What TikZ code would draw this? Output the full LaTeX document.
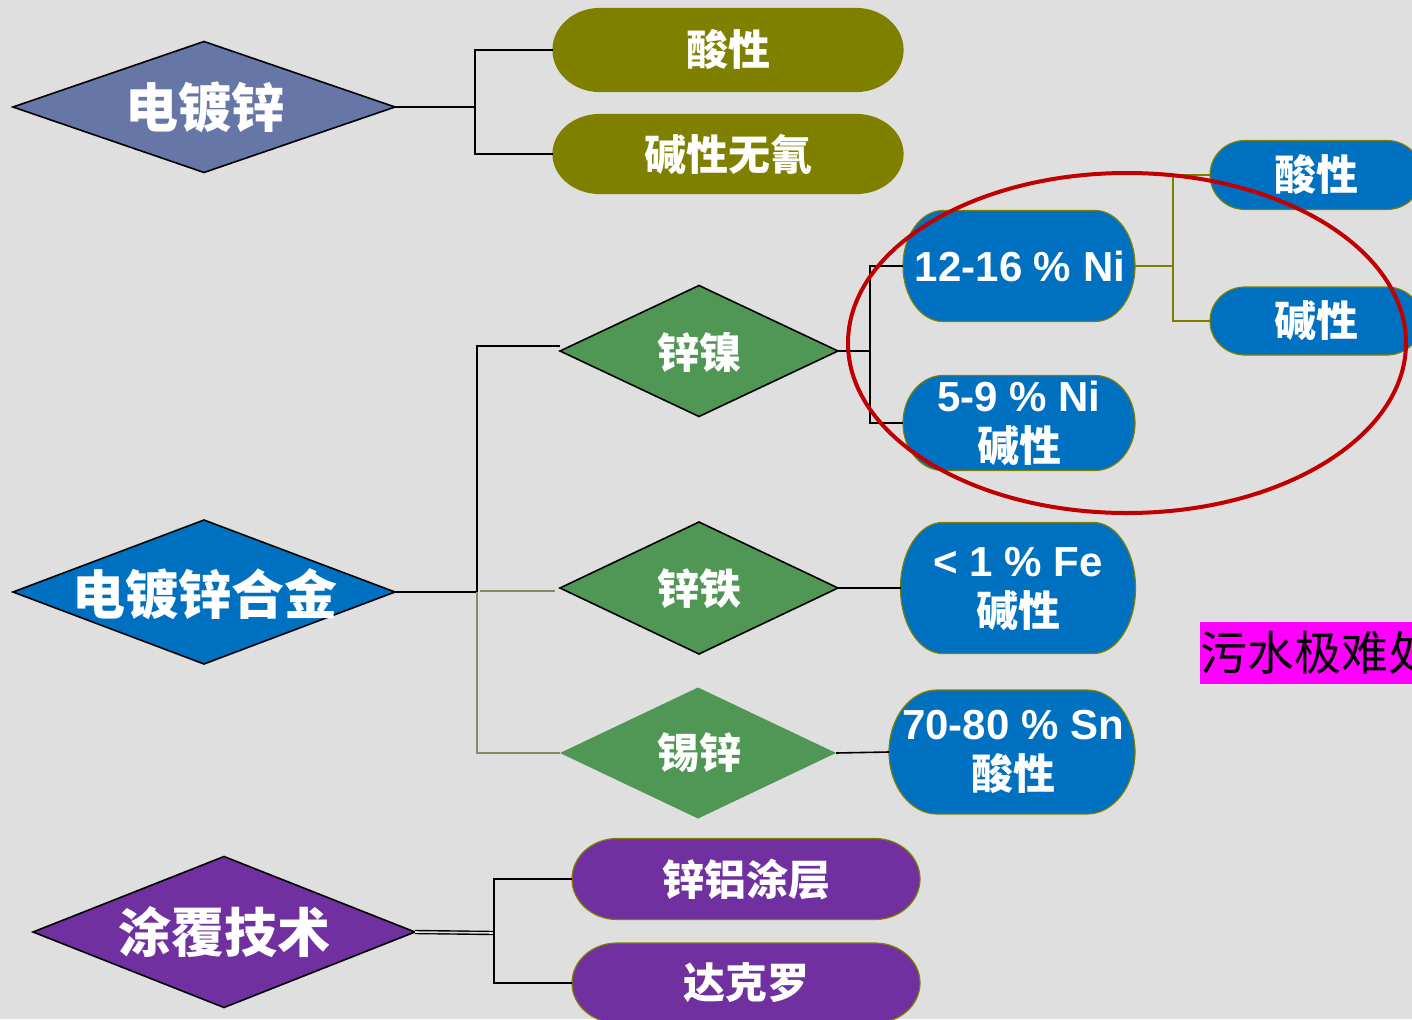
\documentclass[tikz,border=0pt]{standalone}
\usepackage{fontspec}
\newfontfamily\cjk{Noto Sans CJK SC}
\newfontfamily\lat{Liberation Sans}
\usetikzlibrary{shapes.geometric}
\definecolor{bg}{RGB}{223,223,223}
\definecolor{slate}{RGB}{102,119,167}
\definecolor{blu}{RGB}{0,112,192}
\definecolor{grn}{RGB}{80,150,85}
\definecolor{oliv}{RGB}{128,128,0}
\definecolor{purp}{RGB}{112,48,160}
\definecolor{redc}{RGB}{192,0,0}
\definecolor{khaki}{RGB}{140,135,100}
\definecolor{magn}{RGB}{255,0,255}
\tikzset{
  dia/.style={diamond, inner sep=0pt, outer sep=0pt, draw=black, line width=1.6pt},
  bigtxt/.style={text=white, font=\cjk\bfseries\fontsize{53}{60}\selectfont, inner sep=0pt},
  midtxt/.style={text=white, font=\cjk\bfseries\fontsize{42}{50}\selectfont, inner sep=0pt, align=center},
  conn/.style={draw=black, line width=1.6pt},
  oconn/.style={draw=oliv, line width=1.6pt},
  kconn/.style={draw=khaki, line width=1.6pt},
}
% name, cx, cy, width, half height, end radius, fill
\newcommand\pillnode[7]{%
  \node[minimum width=#4pt, minimum height=2*#5pt, inner sep=0pt, outer sep=0pt] (#1) at (#2,#3) {};
  \filldraw[fill=#7, draw=oliv, line width=1.2pt]
    ([xshift=#6pt]#1.north west) -- ([xshift=-#6pt]#1.north east)
    arc[start angle=90, end angle=-90, x radius=#6pt, y radius=#5pt]
    -- ([xshift=#6pt]#1.south west)
    arc[start angle=270, end angle=90, x radius=#6pt, y radius=#5pt] -- cycle;
}
\begin{document}
\begin{tikzpicture}[x=1pt, y=-1pt]
\useasboundingbox (0,0) rectangle (1412,1019);
\fill[bg] (0,0) rectangle (1412,1019);

% diamonds
\node[dia, fill=slate, minimum width=382pt, minimum height=131pt] (d1) at (204,107) {};
\node[dia, fill=blu, minimum width=382pt, minimum height=144pt] (d2) at (204,592) {};
\node[dia, fill=purp, minimum width=382pt, minimum height=151pt] (d3) at (224,932) {};
\node[dia, fill=grn, minimum width=278pt, minimum height=131pt] (zn) at (699,351) {};
\node[dia, fill=grn, minimum width=278pt, minimum height=132pt] (zf) at (699,588) {};
\node[dia, draw=none, fill=grn, minimum width=276pt, minimum height=131pt] (zs) at (698,753) {};

% pills
\pillnode{o1}{728}{50}{350}{41.5}{47}{oliv}
\pillnode{o2}{728}{154}{350}{39.5}{47}{oliv}
\pillnode{p12}{1019}{266}{232}{55.5}{40}{blu}
\pillnode{p59}{1019}{423}{232}{47.5}{40}{blu}
\pillnode{r1}{1316}{175}{212}{34.5}{35}{blu}
\pillnode{r2}{1316}{321}{212}{34}{35}{blu}
\pillnode{pfe}{1018}{588}{235}{65.5}{42}{blu}
\pillnode{psn}{1012}{752}{246}{62}{48}{blu}
\pillnode{c1}{746}{879}{348}{40.5}{45}{purp}
\pillnode{c2}{746}{983}{348}{40}{45}{purp}

% connectors
\coordinate (j1) at (475,107);
\draw[conn] (d1.east) -- (j1);
\draw[conn] (o1.west) -| (j1) |- (o2.west);

\coordinate (j2) at (477,592);
\coordinate (k1) at (480,591);
\coordinate (k2) at (555,591);
\draw[conn] (d2.east) -- (j2);
\draw[conn] (j2) |- ([yshift=5pt]zn.west);
\draw[kconn] (k1) -- (k2);
\draw[kconn] (j2) |- (zs.west);

\coordinate (j3) at (870,351);
\draw[conn] (zn.east) -- (j3);
\draw[conn] (p12.west) -| (j3) |- (p59.west);

\coordinate (j4) at (1173,266);
\draw[oconn] (p12.east) -- (j4);
\draw[oconn] (r1.west) -| (j4) |- (r2.west);

\draw[conn] (zf.east) -- (pfe.west);
\draw[conn] (zs.east) -- (psn.west);

\coordinate (j5) at (494,933);
\draw[draw=black, line width=1.4pt, double=bg, double distance=1.6pt] (d3.east) -- (j5);
\draw[conn] (c1.west) -| (j5) |- (c2.west);

% texts
\node[bigtxt] (t1) at (205,107) {电镀锌};
\node[bigtxt] (t2) at (205,594) {电镀锌合金};
\node[bigtxt] (t3) at (224,932) {涂覆技术};
\node[midtxt] (tzn) at (699,352) {锌镍};
\node[midtxt] (tzf) at (699,589) {锌铁};
\node[midtxt] (tzs) at (699,753) {锡锌};
\node[midtxt] (to1) at (728,50) {酸性};
\node[midtxt] (to2) at (728,154) {碱性无氰};
\node[midtxt] (tp12) at (1020,266) {\lat 12-16 \% Ni};
\node[midtxt] (tp59) at (1019,423) {{\lat 5-9 \% Ni}\\碱性};
\node[midtxt] (tr1) at (1316,175) {酸性};
\node[midtxt] (tr2) at (1316,321) {碱性};
\node[midtxt] (tpfe) at (1018,589) {{\lat < 1 \% Fe}\\碱性};
\node[midtxt] (tpsn) at (1013,752) {{\lat 70-80 \% Sn}\\酸性};
\node[midtxt] (tc1) at (746,879) {锌铝涂层};
\node[midtxt] (tc2) at (746,983) {达克罗};

% red ellipse
\draw[redc, line width=4pt] (1127,343) ellipse [x radius=279pt, y radius=170pt];

% magenta note
\node[fill=magn, inner sep=0pt, minimum height=62pt, text=black,
      font=\cjk\fontsize{47}{47}\selectfont, anchor=west] (note) at (1200,653) {污水极难处};
\end{tikzpicture}
\end{document}
